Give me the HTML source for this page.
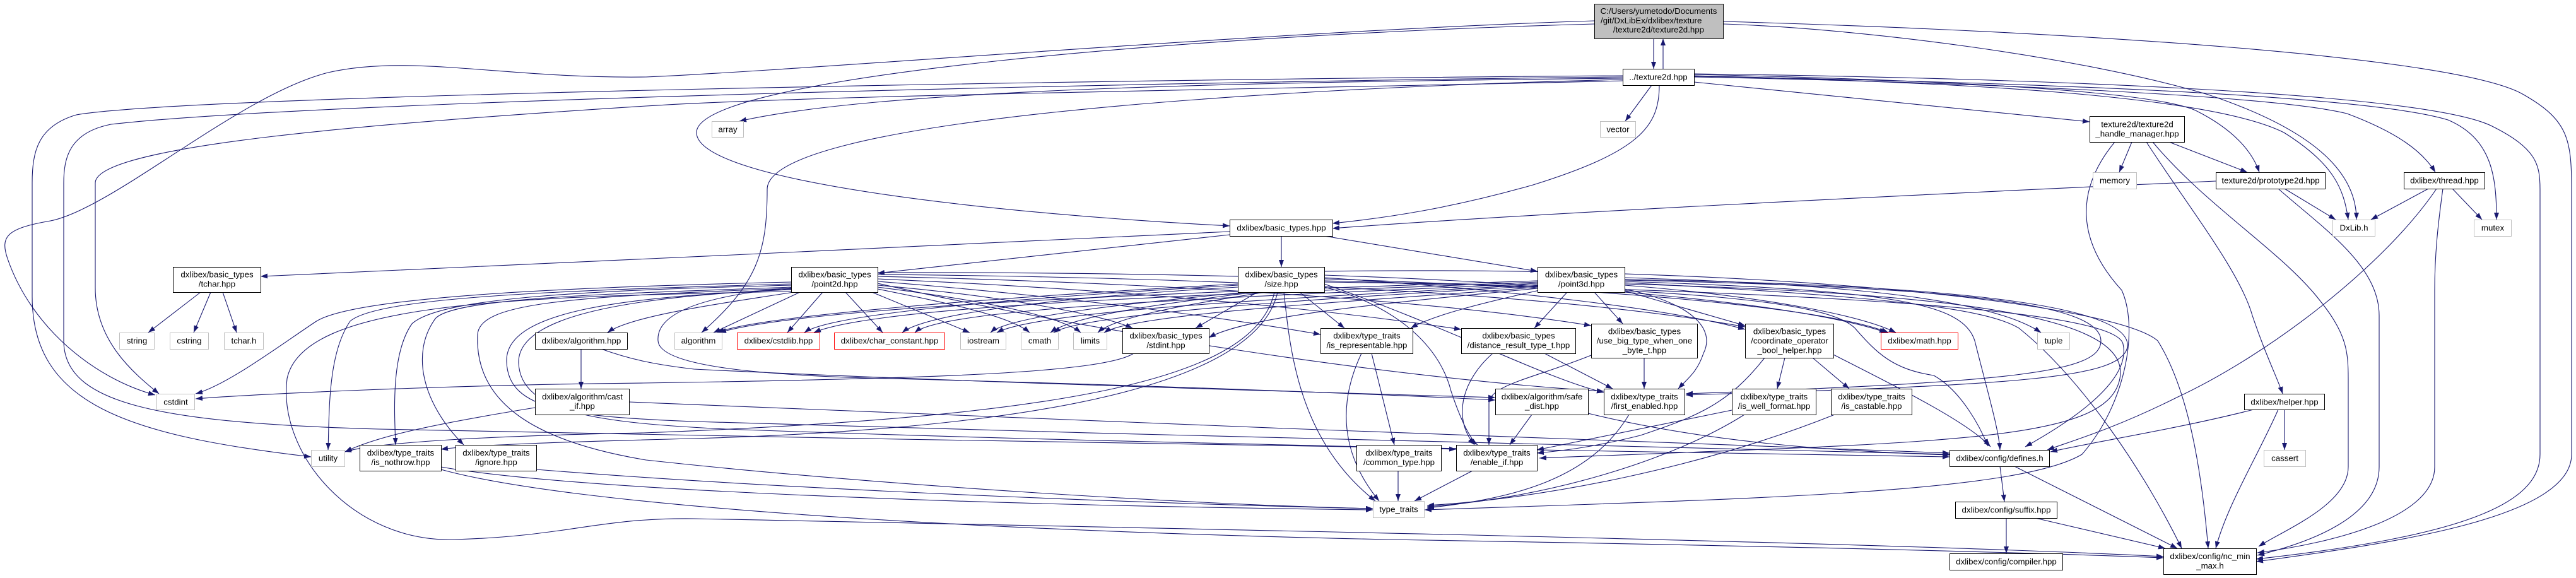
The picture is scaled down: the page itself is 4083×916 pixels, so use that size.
<!DOCTYPE html>
<html><head><meta charset="utf-8"><style>
html,body{margin:0;padding:0;background:#fff;}
svg{display:block;}
text{font-family:"Liberation Sans",Arial,sans-serif;font-size:13.3px;fill:#000;}
.e{fill:none;stroke:#191970;stroke-width:1.1;marker-end:url(#a);}
.n{fill:#fff;stroke:#000;stroke-width:1;}
.g{fill:#fff;stroke:#bfbfbf;stroke-width:1;}
.r{fill:#fff;stroke:#ff0000;stroke-width:1;}
</style></head><body>
<svg width="4083" height="916" viewBox="0 0 4083 916" xmlns="http://www.w3.org/2000/svg">
<defs><marker id="a" viewBox="0 0 11 8" refX="11" refY="4" markerWidth="11" markerHeight="8" markerUnits="userSpaceOnUse" orient="auto"><path d="M0,0L11,4L0,8z" fill="#191970"/></marker></defs>
<rect width="4083" height="916" fill="#fff"/>
<g>
<path class="e" d="M2621,61 L2621,109"/>
<path class="e" d="M2636,109 L2636,61"/>
<path class="e" d="M2527,38 C1900,55 1104,120 1104,210 C1104,290 1600,340 1949,358"/>
<path class="e" d="M2527,33 C2000,50 1300,110 1024,122 C800,125 650,85 520,115 C380,150 180,330 80,350 C10,362 0,375 12,410 C50,520 150,600 246,626"/>
<path class="e" d="M2731,38 C2950,45 3300,90 3500,150 C3680,210 3735,280 3735,348"/>
<path class="e" d="M2731,34 C3300,50 3900,90 4000,150 C4070,190 4076,220 4076,300 L4076,720 C4076,820 3800,860 3576,890"/>
<path class="e" d="M2618,135 L2576,192"/>
<path class="e" d="M2630,135 C2630,200 2600,240 2430,293 C2300,330 2200,345 2112,354"/>
<path class="e" d="M2685,130 L3312,193"/>
<path class="e" d="M2572,124 C2000,130 1400,140 1172,192"/>
<path class="e" d="M2572,126 C2000,140 1216,190 1216,300 C1216,400 1200,450 1112,527"/>
<path class="e" d="M2572,120 C1800,125 300,150 121,182 C60,200 51,240 51,290 L51,470 C51,640 200,690 493,724"/>
<path class="e" d="M2572,122 C1800,130 500,160 176,197 C110,210 101,250 101,290 L101,540 C101,640 250,670 600,680 C1500,700 2700,715 3090,724"/>
<path class="e" d="M2572,128 C2100,140 1300,150 1024,168 C600,195 151,230 151,290 L151,456 C151,540 210,590 252,624"/>
<path class="e" d="M2685,118 C3000,125 3400,140 3480,175 C3540,205 3570,240 3581,273"/>
<path class="e" d="M2685,120 C3100,130 3500,150 3620,210 C3700,260 3715,300 3722,348"/>
<path class="e" d="M2685,122 C3100,130 3600,150 3720,180 C3800,210 3840,240 3860,273"/>
<path class="e" d="M2685,121 C3200,130 3750,150 3880,190 C3950,220 3957,280 3957,348"/>
<path class="e" d="M2685,117 C3300,125 3850,150 3950,200 C4020,235 4026,260 4026,300 L4026,720 C4026,800 3900,850 3576,886"/>
<path class="e" d="M3379,225 L3359,273"/>
<path class="e" d="M3438,225 L3562,273"/>
<path class="e" d="M3352,225 C3290,300 3290,380 3363,460 C3390,520 3370,640 3300,720 C3200,780 2800,790 2258,808"/>
<path class="e" d="M3402,225 C3470,330 3550,430 3570,500 C3590,560 3610,600 3618,624"/>
<path class="e" d="M3412,225 C3500,330 3620,400 3680,480 C3720,530 3722,560 3722,600 L3722,740 C3722,800 3620,840 3580,866"/>
<path class="e" d="M3512,287 C3000,310 2400,340 2112,362"/>
<path class="e" d="M3621,299 L3702,348"/>
<path class="e" d="M3611,299 C3680,360 3771,420 3771,500 L3771,740 C3771,820 3660,860 3578,880"/>
<path class="e" d="M3849,299 L3758,348"/>
<path class="e" d="M3887,299 L3934,348"/>
<path class="e" d="M3862,299 C3780,420 3600,560 3450,630 C3350,680 3280,700 3245,713"/>
<path class="e" d="M3872,299 C3865,350 3859,400 3859,460 L3859,740 C3859,820 3700,860 3578,876"/>
<path class="e" d="M3572,649 C3450,680 3320,700 3250,716"/>
<path class="e" d="M3621,649 L3621,713"/>
<path class="e" d="M3611,649 C3580,720 3530,800 3512,869"/>
<path class="e" d="M3170,739 L3177,795"/>
<path class="e" d="M3193,739 L3451,869"/>
<path class="e" d="M3180,821 L3180,877"/>
<path class="e" d="M3226,821 L3432,869"/>
<path class="e" d="M1949,367 C1600,385 800,420 413,438"/>
<path class="e" d="M1949,372 L1391,433"/>
<path class="e" d="M2031,374 L2031,423"/>
<path class="e" d="M2099,374 L2437,430"/>
<path class="e" d="M318,463 L235,527"/>
<path class="e" d="M334,463 L307,527"/>
<path class="e" d="M353,463 L375,527"/>
<path class="e" d="M1254,447 C900,455 560,470 500,510 C440,550 360,610 310,624"/>
<path class="e" d="M1254,450 C900,460 600,470 555,509 C520,560 522,650 520,713"/>
<path class="e" d="M1254,452 C950,460 700,470 653,513 C620,560 625,650 627,705"/>
<path class="e" d="M1254,455 C1000,465 720,470 690,505 C650,560 670,640 735,705"/>
<path class="e" d="M1258,463 C1150,480 1000,500 963,527"/>
<path class="e" d="M1254,457 C900,470 760,480 757,530 C752,640 850,700 1024,729 C1400,770 1900,800 2176,806"/>
<path class="e" d="M1254,459 C1000,470 800,490 803,573 C805,650 900,660 1100,668 C1800,690 2700,710 3090,720"/>
<path class="e" d="M1254,458 C1020,470 820,495 822,575 C825,655 950,670 1150,680 C1700,700 2100,705 2308,712"/>
<path class="e" d="M1254,462 C800,470 480,480 455,600 C440,720 560,860 720,855 C900,850 950,820 1100,822 C2000,840 3000,860 3429,882"/>
<path class="e" d="M1254,456 C1100,470 1040,500 1043,540 C1045,580 1200,595 1412,600 C1800,610 2200,625 2370,634"/>
<path class="e" d="M1268,463 L1131,527"/>
<path class="e" d="M1304,463 L1248,527"/>
<path class="e" d="M1340,463 L1399,527"/>
<path class="e" d="M1382,463 L1537,527"/>
<path class="e" d="M1391,458 C1500,480 1600,500 1632,527"/>
<path class="e" d="M1391,455 C1550,475 1680,500 1713,527"/>
<path class="e" d="M1391,452 C1600,470 1750,500 1795,520"/>
<path class="e" d="M1391,446 C1700,470 1950,505 2093,530"/>
<path class="e" d="M1391,442 C1800,460 2100,490 2316,522"/>
<path class="e" d="M1391,438 C1900,450 2300,480 2522,516"/>
<path class="e" d="M1391,435 C2000,440 2500,470 2766,518"/>
<path class="e" d="M1391,432 C2200,430 2850,470 2993,527"/>
<path class="e" d="M1391,449 C1700,520 2200,600 2542,620"/>
<path class="e" d="M1962,450 C1600,470 1200,500 1137,527"/>
<path class="e" d="M1962,452 C1650,470 1320,495 1275,527"/>
<path class="e" d="M1962,455 C1700,470 1470,495 1430,527"/>
<path class="e" d="M1975,463 C1800,480 1600,500 1570,527"/>
<path class="e" d="M1990,463 C1850,480 1700,500 1665,527"/>
<path class="e" d="M2005,463 C1900,480 1770,500 1740,527"/>
<path class="e" d="M1993,463 L1895,520"/>
<path class="e" d="M2060,463 L2131,520"/>
<path class="e" d="M2099,440 C2400,460 2650,490 2766,522"/>
<path class="e" d="M2099,436 C2500,450 2850,480 2990,527"/>
<path class="e" d="M2035,463 C2045,560 2060,700 2180,794"/>
<path class="e" d="M2020,463 C1990,600 1700,660 1020,686 C800,690 600,700 546,716"/>
<path class="e" d="M1797,560 C1750,590 1500,600 1020,607 C700,610 400,625 310,632"/>
<path class="e" d="M2025,463 C1990,620 1600,680 1100,695 C900,700 750,705 699,712"/>
<path class="e" d="M2099,455 C2200,480 2280,540 2300,620 C2320,680 2335,700 2342,705"/>
<path class="e" d="M2099,450 C2300,520 2450,600 2542,622"/>
<path class="e" d="M2099,445 C2700,460 3350,480 3365,545 C3380,610 3260,680 3210,708"/>
<path class="e" d="M2099,430 C2800,420 3350,480 3420,540 C3470,620 3490,750 3500,869"/>
<path class="e" d="M2484,463 L2432,520"/>
<path class="e" d="M2527,463 L2572,513"/>
<path class="e" d="M2575,461 L2766,516"/>
<path class="e" d="M2575,458 C2680,480 2720,520 2700,560 C2690,590 2675,600 2660,616"/>
<path class="e" d="M2575,452 C2800,470 2950,500 3005,527"/>
<path class="e" d="M2575,440 C2900,450 3150,470 3235,527"/>
<path class="e" d="M2440,460 C2350,480 2270,500 2236,520"/>
<path class="e" d="M2437,445 C2000,460 1300,480 1140,527"/>
<path class="e" d="M2437,447 C2000,465 1400,480 1290,527"/>
<path class="e" d="M2437,449 C2000,470 1500,485 1450,527"/>
<path class="e" d="M2437,451 C2100,470 1650,490 1580,527"/>
<path class="e" d="M2437,453 C2150,470 1720,495 1670,527"/>
<path class="e" d="M2437,455 C2200,475 1800,495 1750,527"/>
<path class="e" d="M2437,457 C2200,480 1980,500 1916,535"/>
<path class="e" d="M2575,446 C3000,460 3111,480 3130,540 C3150,620 3168,680 3170,713"/>
<path class="e" d="M2575,448 C3000,470 3150,490 3200,520 C3300,600 3400,750 3458,869"/>
<path class="e" d="M2575,444 C3100,455 3330,480 3330,540 C3330,590 3200,605 2672,624"/>
<path class="e" d="M2575,443 C3150,452 3380,490 3372,550 C3362,600 3200,610 2672,626"/>
<path class="e" d="M2575,450 C3100,465 3380,500 3360,600 C3340,700 3100,700 2440,726"/>
<path class="e" d="M2174,560 L2210,705"/>
<path class="e" d="M2158,560 C2120,640 2125,720 2186,794"/>
<path class="e" d="M2448,560 L2556,616"/>
<path class="e" d="M2366,560 C2320,600 2300,660 2337,705"/>
<path class="e" d="M2606,567 L2606,616"/>
<path class="e" d="M2522,563 C2430,600 2360,610 2360,640 L2360,705"/>
<path class="e" d="M2829,567 L2817,616"/>
<path class="e" d="M2873,567 L2931,616"/>
<path class="e" d="M2797,567 C2740,640 2690,660 2600,690 C2520,710 2470,715 2436,718"/>
<path class="e" d="M2906,562 C3020,620 3120,670 3155,708"/>
<path class="e" d="M2099,447 C2700,455 2900,480 2940,520 C2975,560 3000,585 3065,595 C3110,620 3140,680 3151,707"/>
<path class="e" d="M2428,657 L2393,705"/>
<path class="e" d="M2517,655 C2700,700 2900,715 3090,721"/>
<path class="e" d="M2582,657 C2520,760 2400,790 2262,805"/>
<path class="e" d="M2745,650 L2436,713"/>
<path class="e" d="M2765,657 C2650,730 2450,790 2262,803"/>
<path class="e" d="M2908,657 C2700,740 2450,790 2262,801"/>
<path class="e" d="M2216,746 L2216,794"/>
<path class="e" d="M2334,746 L2242,794"/>
<path class="e" d="M921,553 L921,616"/>
<path class="e" d="M953,553 C1000,570 1040,578 1100,585 C1500,605 2100,622 2370,630"/>
<path class="e" d="M848,646 C700,670 600,690 547,716"/>
<path class="e" d="M997,637 C1500,660 2600,700 3090,718"/>
<path class="e" d="M699,740 C900,775 1500,800 2176,808"/>
<path class="e" d="M699,744 C900,800 1500,840 2200,855 C2800,865 3200,875 3429,884"/>
<path class="e" d="M850,744 C1300,780 1900,800 2176,806"/>
</g>
<g>
<rect x="2527.5" y="6.5" width="204" height="55" fill="#bfbfbf" stroke="#000"/>
<text x="2629" y="22" text-anchor="middle">C:/Users/yumetodo/Documents</text>
<text x="2537" y="37">/git/DxLibEx/dxlibex/texture</text>
<text x="2629" y="51.5" text-anchor="middle">/texture2d/texture2d.hpp</text>

<rect class="n" x="2572.5" y="109.5" width="113" height="26"/><text x="2628.5" y="126.5" text-anchor="middle">../texture2d.hpp</text>
<rect class="g" x="1128.5" y="192.5" width="50" height="25"/><text x="1153.5" y="209.5" text-anchor="middle">array</text>
<rect class="g" x="2536.5" y="192.5" width="56" height="25"/><text x="2564.5" y="209.5" text-anchor="middle">vector</text>
<rect class="n" x="3312.5" y="184.5" width="150" height="41"/><text x="3387.5" y="201.5" text-anchor="middle">texture2d/texture2d</text><text x="3387.5" y="216.5" text-anchor="middle">_handle_manager.hpp</text>
<rect class="g" x="3317.5" y="273.5" width="69" height="26"/><text x="3352" y="290.5" text-anchor="middle">memory</text>
<rect class="n" x="3512.5" y="273.5" width="173" height="26"/><text x="3599" y="290.5" text-anchor="middle">texture2d/prototype2d.hpp</text>
<rect class="n" x="3810.5" y="273.5" width="128" height="26"/><text x="3874.5" y="290.5" text-anchor="middle">dxlibex/thread.hpp</text>
<rect class="g" x="3697.5" y="348.5" width="67" height="26"/><text x="3731" y="365.5" text-anchor="middle">DxLib.h</text>
<rect class="g" x="3921.5" y="348.5" width="59" height="26"/><text x="3951" y="365.5" text-anchor="middle">mutex</text>
<rect class="n" x="1949.5" y="348.5" width="163" height="26"/><text x="2031" y="365.5" text-anchor="middle">dxlibex/basic_types.hpp</text>

<rect class="n" x="274.5" y="423.5" width="139" height="40"/><text x="344" y="439.5" text-anchor="middle">dxlibex/basic_types</text><text x="344" y="454.5" text-anchor="middle">/tchar.hpp</text>
<rect class="n" x="1254.5" y="423.5" width="137" height="40"/><text x="1323" y="439.5" text-anchor="middle">dxlibex/basic_types</text><text x="1323" y="454.5" text-anchor="middle">/point2d.hpp</text>
<rect class="n" x="1962.5" y="423.5" width="137" height="40"/><text x="2031" y="439.5" text-anchor="middle">dxlibex/basic_types</text><text x="2031" y="454.5" text-anchor="middle">/size.hpp</text>
<rect class="n" x="2437.5" y="423.5" width="138" height="40"/><text x="2506.5" y="439.5" text-anchor="middle">dxlibex/basic_types</text><text x="2506.5" y="454.5" text-anchor="middle">/point3d.hpp</text>

<rect class="g" x="189.5" y="527.5" width="55" height="26"/><text x="217" y="544.5" text-anchor="middle">string</text>
<rect class="g" x="269.5" y="527.5" width="61" height="26"/><text x="300" y="544.5" text-anchor="middle">cstring</text>
<rect class="g" x="355.5" y="527.5" width="62" height="26"/><text x="386.5" y="544.5" text-anchor="middle">tchar.h</text>
<rect class="n" x="848.5" y="527.5" width="146" height="26"/><text x="921.5" y="544.5" text-anchor="middle">dxlibex/algorithm.hpp</text>
<rect class="g" x="1069.5" y="527.5" width="75" height="26"/><text x="1107" y="544.5" text-anchor="middle">algorithm</text>
<rect class="r" x="1168.5" y="527.5" width="131" height="26"/><text x="1234" y="544.5" text-anchor="middle">dxlibex/cstdlib.hpp</text>
<rect class="r" x="1322.5" y="527.5" width="175" height="26"/><text x="1410" y="544.5" text-anchor="middle">dxlibex/char_constant.hpp</text>
<rect class="g" x="1522.5" y="527.5" width="72" height="26"/><text x="1558.5" y="544.5" text-anchor="middle">iostream</text>
<rect class="g" x="1618.5" y="527.5" width="59" height="26"/><text x="1648" y="544.5" text-anchor="middle">cmath</text>
<rect class="g" x="1701.5" y="527.5" width="53" height="26"/><text x="1728" y="544.5" text-anchor="middle">limits</text>
<rect class="n" x="1779.5" y="520.5" width="137" height="40"/><text x="1848" y="536.5" text-anchor="middle">dxlibex/basic_types</text><text x="1848" y="551.5" text-anchor="middle">/stdint.hpp</text>
<rect class="n" x="2093.5" y="520.5" width="146" height="40"/><text x="2166.5" y="536.5" text-anchor="middle">dxlibex/type_traits</text><text x="2166.5" y="551.5" text-anchor="middle">/is_representable.hpp</text>
<rect class="n" x="2316.5" y="520.5" width="181" height="40"/><text x="2407" y="536.5" text-anchor="middle">dxlibex/basic_types</text><text x="2407" y="551.5" text-anchor="middle">/distance_result_type_t.hpp</text>
<rect class="n" x="2522.5" y="513.5" width="168" height="54"/><text x="2606.5" y="529.5" text-anchor="middle">dxlibex/basic_types</text><text x="2606.5" y="544.5" text-anchor="middle">/use_big_type_when_one</text><text x="2606.5" y="559.5" text-anchor="middle">_byte_t.hpp</text>
<rect class="n" x="2766.5" y="513.5" width="140" height="54"/><text x="2836.5" y="529.5" text-anchor="middle">dxlibex/basic_types</text><text x="2836.5" y="544.5" text-anchor="middle">/coordinate_operator</text><text x="2836.5" y="559.5" text-anchor="middle">_bool_helper.hpp</text>
<rect class="r" x="2981.5" y="527.5" width="122" height="26"/><text x="3042.5" y="544.5" text-anchor="middle">dxlibex/math.hpp</text>
<rect class="g" x="3229.5" y="527.5" width="51" height="26"/><text x="3255" y="544.5" text-anchor="middle">tuple</text>

<rect class="g" x="248.5" y="624.5" width="60" height="25"/><text x="278.5" y="641.5" text-anchor="middle">cstdint</text>
<rect class="n" x="848.5" y="616.5" width="149" height="41"/><text x="923" y="633" text-anchor="middle">dxlibex/algorithm/cast</text><text x="923" y="648" text-anchor="middle">_if.hpp</text>
<rect class="n" x="2370.5" y="616.5" width="147" height="41"/><text x="2444" y="633" text-anchor="middle">dxlibex/algorithm/safe</text><text x="2444" y="648" text-anchor="middle">_dist.hpp</text>
<rect class="n" x="2542.5" y="616.5" width="128" height="41"/><text x="2606.5" y="633" text-anchor="middle">dxlibex/type_traits</text><text x="2606.5" y="648" text-anchor="middle">/first_enabled.hpp</text>
<rect class="n" x="2745.5" y="616.5" width="133" height="41"/><text x="2812" y="633" text-anchor="middle">dxlibex/type_traits</text><text x="2812" y="648" text-anchor="middle">/is_well_format.hpp</text>
<rect class="n" x="2902.5" y="616.5" width="128" height="41"/><text x="2966.5" y="633" text-anchor="middle">dxlibex/type_traits</text><text x="2966.5" y="648" text-anchor="middle">/is_castable.hpp</text>
<rect class="n" x="3557.5" y="624.5" width="127" height="25"/><text x="3621" y="641.5" text-anchor="middle">dxlibex/helper.hpp</text>

<rect class="g" x="493.5" y="713.5" width="53" height="26"/><text x="520" y="730.5" text-anchor="middle">utility</text>
<rect class="n" x="570.5" y="705.5" width="129" height="41"/><text x="635" y="722" text-anchor="middle">dxlibex/type_traits</text><text x="635" y="737" text-anchor="middle">/is_nothrow.hpp</text>
<rect class="n" x="722.5" y="705.5" width="128" height="41"/><text x="786.5" y="722" text-anchor="middle">dxlibex/type_traits</text><text x="786.5" y="737" text-anchor="middle">/ignore.hpp</text>
<rect class="n" x="2150.5" y="705.5" width="134" height="41"/><text x="2217.5" y="722" text-anchor="middle">dxlibex/type_traits</text><text x="2217.5" y="737" text-anchor="middle">/common_type.hpp</text>
<rect class="n" x="2308.5" y="705.5" width="128" height="41"/><text x="2372.5" y="722" text-anchor="middle">dxlibex/type_traits</text><text x="2372.5" y="737" text-anchor="middle">/enable_if.hpp</text>
<rect class="n" x="3090.5" y="713.5" width="158" height="26"/><text x="3169.5" y="730.5" text-anchor="middle">dxlibex/config/defines.h</text>
<rect class="g" x="3588.5" y="713.5" width="66" height="26"/><text x="3621.5" y="730.5" text-anchor="middle">cassert</text>

<rect class="g" x="2176.5" y="794.5" width="81" height="26"/><text x="2217" y="811.5" text-anchor="middle">type_traits</text>
<rect class="n" x="3099.5" y="795.5" width="161" height="26"/><text x="3180" y="812.5" text-anchor="middle">dxlibex/config/suffix.hpp</text>
<rect class="n" x="3090.5" y="877.5" width="179" height="26"/><text x="3180" y="894.5" text-anchor="middle">dxlibex/config/compiler.hpp</text>
<rect class="n" x="3429.5" y="869.5" width="147" height="41"/><text x="3503" y="886" text-anchor="middle">dxlibex/config/nc_min</text><text x="3503" y="901" text-anchor="middle">_max.h</text>
</g>
</svg>
</body></html>
